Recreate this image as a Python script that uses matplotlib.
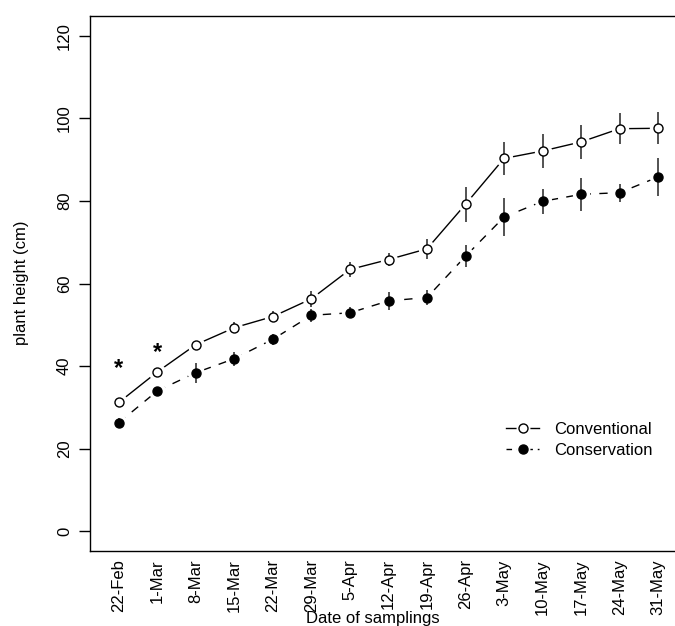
import numpy as np
import matplotlib
matplotlib.use('Agg')
import matplotlib.pyplot as plt
from matplotlib.lines import Line2D
from matplotlib.legend_handler import HandlerTuple

plt.rcParams['font.family'] = ['Liberation Sans', 'DejaVu Sans']

# sampling dates
dates = ['22-Feb', '1-Mar', '8-Mar', '15-Mar', '22-Mar', '29-Mar', '5-Apr', '12-Apr',
         '19-Apr', '26-Apr', '3-May', '10-May', '17-May', '24-May', '31-May']

# mean plant height (cm) and error half-widths
conventional = [31.2, 38.6, 45.2, 49.3, 52.0, 56.3, 63.4, 65.8, 68.4, 79.2, 90.3, 92.1, 94.3, 97.5, 97.6]
conventional_err = [0.8, 0.8, 0.8, 1.3, 1.4, 2.0, 1.8, 1.6, 2.4, 4.2, 3.9, 4.0, 4.2, 3.8, 3.9]
conservation = [26.3, 34.0, 38.4, 41.8, 46.5, 52.3, 52.9, 55.8, 56.6, 66.6, 76.1, 79.9, 81.6, 82.0, 85.8]
conservation_err = [1.1, 0.8, 2.4, 1.7, 1.3, 1.6, 1.3, 2.2, 1.8, 2.7, 4.5, 3.0, 4.0, 2.2, 4.6]

# significance marks
star_dates = ['22-Feb', '1-Mar']
star_y = [39.3, 43.3]

yticks = [0, 20, 40, 60, 80, 100, 120]

x = np.arange(1, len(dates) + 1)

fig = plt.figure(figsize=(6.75, 6.26), dpi=100)
W, H = 675, 626
ax = fig.add_axes([90 / W, 1 - 551 / H, (687 - 90) / W, (551 - 16) / H])

# lines (R type="b": gaps around points)
ax.plot(x, conventional, color='black', lw=1.0, zorder=2)
ax.plot(x, conservation, color='black', lw=1.0, dashes=(6, 6), zorder=2)
ax.plot(x, conventional, ls='none', marker='o', ms=11.5, mfc='white', mec='white', zorder=3)
ax.plot(x, conservation, ls='none', marker='o', ms=11.5, mfc='white', mec='white', zorder=3)

# error bars
ax.vlines(x, np.array(conventional) - conventional_err, np.array(conventional) + conventional_err,
          color='#444444', lw=1.3, zorder=4)
ax.vlines(x, np.array(conservation) - conservation_err, np.array(conservation) + conservation_err,
          color='#444444', lw=1.3, zorder=4)

ax.plot(x, conventional, ls='none', marker='o', ms=6.5, mfc='white', mec='black', mew=1.0, zorder=5)
ax.plot(x, conservation, ls='none', marker='o', ms=6.5, mfc='black', mec='black', mew=1.0, zorder=5)

for d, sy in zip(star_dates, star_y):
    ax.text(dates.index(d) + 1, sy, '*', fontsize=17, ha='center', va='center', fontweight='bold')

ax.set_xlim(0.25, 15.75)
ax.set_ylim(-4.8, 124.8)
ax.set_xticks(x)
ax.set_xticklabels(dates, rotation=90, fontsize=12)
ax.set_yticks(yticks)
ax.set_yticklabels([str(v) for v in yticks], rotation=90, va='center', fontsize=12)
ax.tick_params(axis='x', length=0, pad=6)
ax.tick_params(axis='y', length=8, width=1, pad=5)
ax.spines['right'].set_visible(False)
for s in ax.spines.values():
    s.set_linewidth(1.0)

fig.text(22 / W, 1 - 283 / H, 'plant height (cm)', rotation=90, ha='center', va='center', fontsize=12)
fig.text(373 / W, 1 - 618 / H, 'Date of samplings', ha='center', va='center', fontsize=12)

# legend
h1 = (Line2D([], [], color='black', lw=1.0),
      Line2D([], [], ls='none', marker='o', ms=9, mfc='white', mec='white'),
      Line2D([], [], ls='none', marker='o', ms=6.5, mfc='white', mec='black'))
h2 = (Line2D([], [], color='black', lw=1.0, dashes=(4, 3.5)),
      Line2D([], [], ls='none', marker='o', ms=9, mfc='white', mec='white'),
      Line2D([], [], ls='none', marker='o', ms=6.5, mfc='black', mec='black'))
fig.legend([h1, h2], ['Conventional', 'Conservation'], handler_map={tuple: HandlerTuple(ndivide=1, pad=0)},
           loc='upper left', bbox_to_anchor=(506 / W, 1 - 422 / H), frameon=False, fontsize=12,
           handlelength=2.0, handletextpad=0.9, labelspacing=0.35, borderpad=0, borderaxespad=0)

fig.savefig('out.png', dpi=100)
